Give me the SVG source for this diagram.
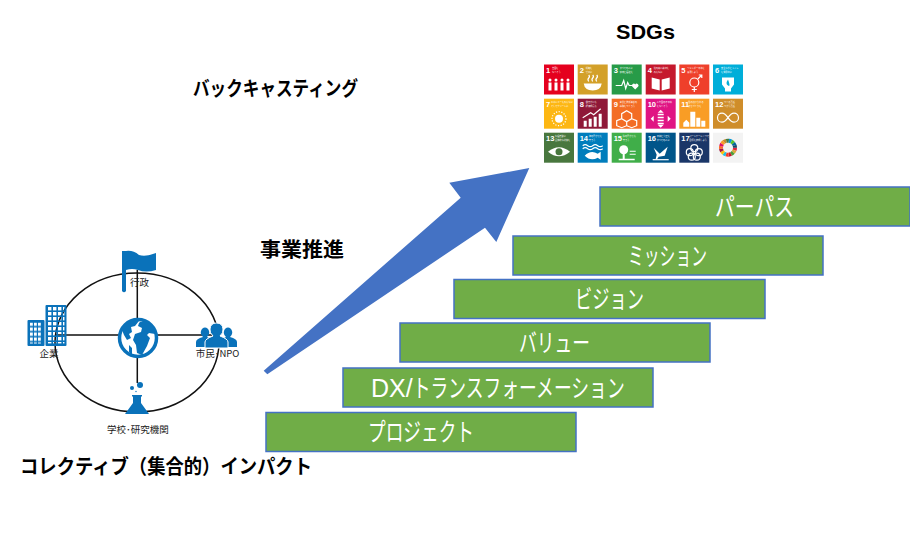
<svg xmlns="http://www.w3.org/2000/svg" width="910" height="540" viewBox="0 0 910 540">
<defs>
<pattern id="win" width="5" height="5" patternUnits="userSpaceOnUse" x="48" y="307"><rect width="3.400" height="3.400" fill="#000"/></pattern>
<mask id="winmask" maskUnits="userSpaceOnUse" x="20" y="300" width="50" height="50"><rect x="20" y="300" width="50" height="50" fill="#fff"/><rect x="48" y="307" width="16.400" height="36.400" fill="url(#win)"/><rect x="30" y="322.500" width="11.500" height="21" fill="url(#win2)"/></mask>
<pattern id="win2" width="4" height="5" patternUnits="userSpaceOnUse" x="30" y="322.500"><rect width="2.800" height="3.400" fill="#000"/></pattern>
</defs>
<style>
text{font-family:"Noto Sans CJK JP","Liberation Sans",sans-serif}
.b{font-weight:700;font-size:20px;fill:#000}
.bar rect{fill:#70AD47;stroke:#4472C4;stroke-width:1.5}
.bar text{fill:#fff;font-size:25px;font-weight:400;text-anchor:start}
.s{font-size:9.500px;fill:#222;text-anchor:middle}
.ic{fill:#0A72BA}
.l{stroke:#111;stroke-width:1.5;fill:none}
.t text{fill:#fff;font-size:2.200px}
.t .n{font-size:7.500px;font-weight:700;font-family:"Liberation Sans",sans-serif}
.t .g{fill:#fff}
.t .o{fill:none;stroke:#fff;stroke-width:1.2}
</style>
<rect width="910" height="540" fill="#fff"/>
<g id="title-sdgs"><text class="b" x="616" y="39" textLength="59" lengthAdjust="spacingAndGlyphs" style="font-family:'Liberation Sans',sans-serif;font-size:21px">SDGs</text></g>
<g id="label-backcasting"><text class="b" x="193" y="96" textLength="165" lengthAdjust="spacingAndGlyphs">バックキャスティング</text></g>
<g id="label-promotion"><text class="b" x="260" y="257" textLength="84" lengthAdjust="spacingAndGlyphs">事業推進</text></g>
<g id="label-collective"><text class="b" x="20" y="474" textLength="292" lengthAdjust="spacingAndGlyphs">コレクティブ（集合的）インパクト</text></g>

<g id="sdg-grid" class="t">
<g id="sdg1" transform="translate(544,64.500)"><rect width="30" height="30" fill="#E5001E"/><text class="n" x="2" y="8">1</text><text x="8" y="4.500">貧困を</text><text x="8" y="8">なくそう</text><g class="g"><circle cx="6" cy="15.500" r="1.500"/><circle cx="12" cy="15.500" r="1.500"/><circle cx="18" cy="15.500" r="1.500"/><circle cx="24" cy="15.500" r="1.500"/><path d="M4.500 18h3v8h-3zM10.500 18h3v8h-3zM16.500 18h3v8h-3zM22.500 18h3v8h-3z"/></g></g>
<g id="sdg2" transform="translate(577.700,64.500)"><rect width="30" height="30" fill="#D3A029"/><text class="n" x="2" y="8">2</text><text x="8" y="4.500">飢餓を</text><text x="8" y="8">ゼロに</text><path class="g" d="M6 19h18q-1 7-9 7t-9-7z"/><path class="o" d="M11 17q-1.500-2 0-3.500t0-3M15 17q-1.500-2 0-3.500t0-3M19 17q-1.500-2 0-3.500t0-3" stroke-width=".8"/></g>
<g id="sdg3" transform="translate(611.700,64.500)"><rect width="30" height="30" fill="#279B48"/><text class="n" x="2" y="8">3</text><text x="8" y="4.500">すべての人に</text><text x="8" y="8">健康と福祉を</text><path class="o" d="M4 21h6l2-5 2 8 2-6 1.500 3h3"/><path class="g" d="M23.500 25l-3-3a1.800 1.800 0 0 1 3-2 1.800 1.800 0 0 1 3 2z"/></g>
<g id="sdg4" transform="translate(645.700,64.500)"><rect width="30" height="30" fill="#C5192D"/><text class="n" x="2" y="8">4</text><text x="8" y="4.500">質の高い教育を</text><text x="8" y="8">みんなに</text><path class="g" d="M6 13l8 2v11l-8-2zM24 13l-8 2v11l8-2z"/></g>
<g id="sdg5" transform="translate(679.300,64.500)"><rect width="30" height="30" fill="#EF402B"/><text class="n" x="2" y="8">5</text><text x="8" y="4.500">ジェンダー平等を</text><text x="8" y="8">実現しよう</text><circle class="o" cx="15" cy="18" r="4.500"/><path class="o" d="M15 22.500v5M12.500 25h5M18.500 14.500l4-4M19.500 10.500h3v3"/></g>
<g id="sdg6" transform="translate(713,64.500)"><rect width="30" height="30" fill="#00AED9"/><text class="n" x="2" y="8">6</text><text x="8" y="4.500">安全な水とトイレ</text><text x="8" y="8">を世界中に</text><path class="g" d="M9 13h12v7l-3 4v3h-6v-3l-3-4z"/><path d="M15 15q-3 4 0 6t0-6z" fill="#00AED9"/></g>
<g id="sdg7" transform="translate(544,98.700)"><rect width="30" height="30" fill="#FDB713"/><text class="n" x="2" y="8">7</text><text x="7" y="4.500">エネルギーをみんなに</text><text x="7" y="8">そしてクリーンに</text><circle class="g" cx="15" cy="20" r="4"/><circle class="o" cx="15" cy="20" r="7" stroke-width="2" stroke-dasharray="1.200 1.500"/></g>
<g id="sdg8" transform="translate(577.700,98.700)"><rect width="30" height="30" fill="#8F1838"/><text class="n" x="2" y="8">8</text><text x="8" y="4.500">働きがいも</text><text x="8" y="8">経済成長も</text><path class="g" d="M6 22h3v6H6zM11 20h3v8h-3zM16 18h3v10h-3zM21 15h3v13h-3z"/><path class="o" d="M5 19l8-5 3 2 7-6"/></g>
<g id="sdg9" transform="translate(611.700,98.700)"><rect width="30" height="30" fill="#F36D25"/><text class="n" x="2" y="8">9</text><text x="8" y="4.500">産業と技術革新の</text><text x="8" y="8">基盤をつくろう</text><path class="o" d="M15 12l5 3v5l-5 3-5-3v-5zM10 20l5 3v4l-5 2-5-2v-5zM20 20l5 2v5l-5 2-5-2v-4z" stroke-width=".9"/></g>
<g id="sdg10" transform="translate(645.700,98.700)"><rect width="30" height="30" fill="#E01483"/><text class="n" x="2" y="8">10</text><text x="11" y="4.500">人や国の不平等</text><text x="11" y="8">をなくそう</text><path class="g" d="M12 15h6v1.500h-6zM12 18h6v1.500h-6zM12 21h6v1.500h-6zM12 24h6v1.500h-6zM15 11l3 3h-6zM15 29l3-3h-6zM5 20l3-3v6zM25 20l-3-3v6z"/></g>
<g id="sdg11" transform="translate(679.300,98.700)"><rect width="30" height="30" fill="#F99D25"/><text class="n" x="2" y="8">11</text><text x="9" y="4.500">住み続けられる</text><text x="9" y="8">まちづくりを</text><path class="g" d="M4 28v-4l3-3 3 3v4zM11 28V13h5v15zM17 28v-9h4v9zM22 28v-6h4v6z"/></g>
<g id="sdg12" transform="translate(713,98.700)"><rect width="30" height="30" fill="#CF8D2A"/><text class="n" x="2" y="8">12</text><text x="11" y="4.500">つくる責任</text><text x="11" y="8">つかう責任</text><path class="o" d="M15 19c-2-3-4-4.500-6-4.500a4.500 4.500 0 0 0 0 9c2 0 4-1.500 6-4.500s4-4.500 6-4.500a4.500 4.500 0 0 1 0 9c-2 0-4-1.500-6-4.500z"/></g>
<g id="sdg13" transform="translate(544,132.700)"><rect width="30" height="30" fill="#48773E"/><text class="n" x="2" y="8">13</text><text x="11" y="4.500">気候変動に</text><text x="11" y="8">具体的な対策を</text><path class="g" d="M4 19q11-9 22 0q-11 9-22 0z"/><circle cx="15" cy="19" r="3.500" fill="#48773E"/></g>
<g id="sdg14" transform="translate(577.700,132.700)"><rect width="30" height="30" fill="#007DBC"/><text class="n" x="2" y="8">14</text><text x="11" y="4.500">海の豊かさを</text><text x="11" y="8">守ろう</text><path class="o" d="M5 13q2.500-2 5 0t5 0 5 0 5 0M5 16q2.500-2 5 0t5 0 5 0 5 0" stroke-width=".8"/><path class="g" d="M7 23q6-6 13-2l3-2v8l-3-2q-7 4-13-2z"/></g>
<g id="sdg15" transform="translate(611.700,132.700)"><rect width="30" height="30" fill="#40AE49"/><text class="n" x="2" y="8">15</text><text x="11" y="4.500">陸の豊かさも</text><text x="11" y="8">守ろう</text><circle class="g" cx="12" cy="17" r="4.500"/><path class="g" d="M11 20h2v6h-2zM7 26h16v1.500H7zM18 18h6v1h-6zM18 21h6v1h-6z"/></g>
<g id="sdg16" transform="translate(645.700,132.700)"><rect width="30" height="30" fill="#00558A"/><text class="n" x="2" y="8">16</text><text x="11" y="4.500">平和と公正を</text><text x="11" y="8">すべての人に</text><path class="g" d="M8 15l6 6 8-7-3 9-6 1-2 3-1-1 1-4z"/><path class="o" d="M7 27h16" stroke-width="1"/></g>
<g id="sdg17" transform="translate(679.300,132.700)"><rect width="30" height="30" fill="#1A3668"/><text class="n" x="2" y="8">17</text><text x="10" y="4.500">パートナーシップで</text><text x="10" y="8">目標を達成しよう</text><g class="o" stroke-width=".8"><circle cx="15" cy="15.500" r="3.500"/><circle cx="10.500" cy="19.500" r="3.500"/><circle cx="19.500" cy="19.500" r="3.500"/><circle cx="12.500" cy="24" r="3.500"/><circle cx="17.500" cy="24" r="3.500"/></g></g>
<g id="sdg-wheel" transform="translate(713,132.700)" fill="none" stroke-width="4"><rect width="30" height="30" fill="#F3F3F3"/>
<circle cx="15" cy="15" r="7" stroke="#E5243B" stroke-dasharray="2.590 41.400"/>
<circle cx="15" cy="15" r="7" stroke="#DDA63A" stroke-dasharray="2.590 41.400" stroke-dashoffset="-2.590"/>
<circle cx="15" cy="15" r="7" stroke="#4C9F38" stroke-dasharray="2.590 41.400" stroke-dashoffset="-5.180"/>
<circle cx="15" cy="15" r="7" stroke="#C5192D" stroke-dasharray="2.590 41.400" stroke-dashoffset="-7.770"/>
<circle cx="15" cy="15" r="7" stroke="#FF3A21" stroke-dasharray="2.590 41.400" stroke-dashoffset="-10.360"/>
<circle cx="15" cy="15" r="7" stroke="#26BDE2" stroke-dasharray="2.590 41.400" stroke-dashoffset="-12.950"/>
<circle cx="15" cy="15" r="7" stroke="#FCC30B" stroke-dasharray="2.590 41.400" stroke-dashoffset="-15.540"/>
<circle cx="15" cy="15" r="7" stroke="#A21942" stroke-dasharray="2.590 41.400" stroke-dashoffset="-18.130"/>
<circle cx="15" cy="15" r="7" stroke="#FD6925" stroke-dasharray="2.590 41.400" stroke-dashoffset="-20.720"/>
<circle cx="15" cy="15" r="7" stroke="#DD1367" stroke-dasharray="2.590 41.400" stroke-dashoffset="-23.310"/>
<circle cx="15" cy="15" r="7" stroke="#FD9D24" stroke-dasharray="2.590 41.400" stroke-dashoffset="-25.900"/>
<circle cx="15" cy="15" r="7" stroke="#BF8B2E" stroke-dasharray="2.590 41.400" stroke-dashoffset="-28.490"/>
<circle cx="15" cy="15" r="7" stroke="#3F7E44" stroke-dasharray="2.590 41.400" stroke-dashoffset="-31.080"/>
<circle cx="15" cy="15" r="7" stroke="#0A97D9" stroke-dasharray="2.590 41.400" stroke-dashoffset="-33.670"/>
<circle cx="15" cy="15" r="7" stroke="#56C02B" stroke-dasharray="2.590 41.400" stroke-dashoffset="-36.260"/>
<circle cx="15" cy="15" r="7" stroke="#00689D" stroke-dasharray="2.590 41.400" stroke-dashoffset="-38.850"/>
<circle cx="15" cy="15" r="7" stroke="#19486A" stroke-dasharray="2.590 41.400" stroke-dashoffset="-41.440"/>
</g>
</g>

<g id="connectors">
<ellipse class="l" cx="137" cy="342.500" rx="82" ry="69.500"/>
<path class="l" d="M137.300 270V383M55 335H215"/>
<polygon id="main-arrow" points="263.700,370.700 460.700,197.700 449.300,182.700 529.300,168 496.300,242 485,227.700 267.300,374.300" fill="#4472C4"/>
</g>

<g id="node-globe"><circle cx="138" cy="338" r="18.500" fill="#fff" stroke="#0A72BA" stroke-width="3.500"/><path class="ic" d="M122 330q5-8 14-11l3 2-4 5-4 1 1 5-3 2 2 4-4 2-3-5zM140 322q8-2 14 6l1 6-6-1-2 2 3 3-3 8-5 9-5-2-1-8-3-5 2-6 6-2 1-4-4-2 1-3zM129 345l3 3 0 7-3-3z"/></g>
<g id="node-gov"><path class="ic" d="M122 251h4v40q-2 2.500-4 0z"/><path class="ic" d="M126 251q7-1 13 4 7 2 17-2v17q-10 3-18 0-6-2-12 0z"/><text class="s" x="139.500" y="286">行政</text></g>
<g id="node-company"><g mask="url(#winmask)"><rect class="ic" x="27.500" y="320" width="17" height="26" rx="1"/><rect class="ic" x="45.500" y="305" width="21" height="41" rx="1"/></g><text class="s" x="49" y="357">企業</text></g>
<g id="node-citizen"><path class="ic" d="M196 347v-5q0-3 7-5-3-3-2-6 1-3.500 4-3.500t4 3.500q1 3-2 6 2 1 4 2v8z"/><path class="ic" d="M237 347v-5q0-3-7-5 3-3 2-6-1-3.500-4-3.500t-4 3.500q-1 3 2 6-2 1-4 2v8z"/><path class="ic" stroke="#fff" stroke-width="1" d="M205 348v-6q0-3 8-6-3.500-3-3-7 .5-6 6.500-6t6.500 6q.5 4-3 7 8 3 8 6v6z"/><text class="s" x="217.500" y="357">市民･NPO</text></g>
<g id="node-school"><circle class="ic" cx="140" cy="385" r="3"/><circle class="ic" cx="132" cy="388" r="2"/><circle class="ic" cx="136" cy="391.500" r=".7"/><path class="ic" d="M132 395h10v1.500h-1v6.500l8 11h-24l8-11v-6.500h-1z"/><text class="s" x="138" y="433">学校･研究機関</text></g>

<g id="bar-purpose" class="bar"><rect x="600" y="187" width="310" height="39"/><text x="715" y="216" textLength="79" lengthAdjust="spacingAndGlyphs">パーパス</text></g>
<g id="bar-mission" class="bar"><rect x="513" y="236" width="310" height="39"/><text x="628" y="265" textLength="79" lengthAdjust="spacingAndGlyphs">ミッション</text></g>
<g id="bar-vision" class="bar"><rect x="454" y="279.500" width="311" height="39"/><text x="575" y="308" textLength="69" lengthAdjust="spacingAndGlyphs">ビジョン</text></g>
<g id="bar-value" class="bar"><rect x="400" y="323" width="310" height="39"/><text x="519" y="352" textLength="71" lengthAdjust="spacingAndGlyphs">バリュー</text></g>
<g id="bar-dx" class="bar"><rect x="343" y="368" width="310" height="39"/><text x="371" y="397"><tspan style="font-family:'Liberation Sans',sans-serif">DX/</tspan><tspan textLength="212" lengthAdjust="spacingAndGlyphs">トランスフォーメーション</tspan></text></g>
<g id="bar-project" class="bar"><rect x="266" y="412.500" width="310" height="39"/><text x="368" y="441" textLength="106" lengthAdjust="spacingAndGlyphs">プロジェクト</text></g>
</svg>
